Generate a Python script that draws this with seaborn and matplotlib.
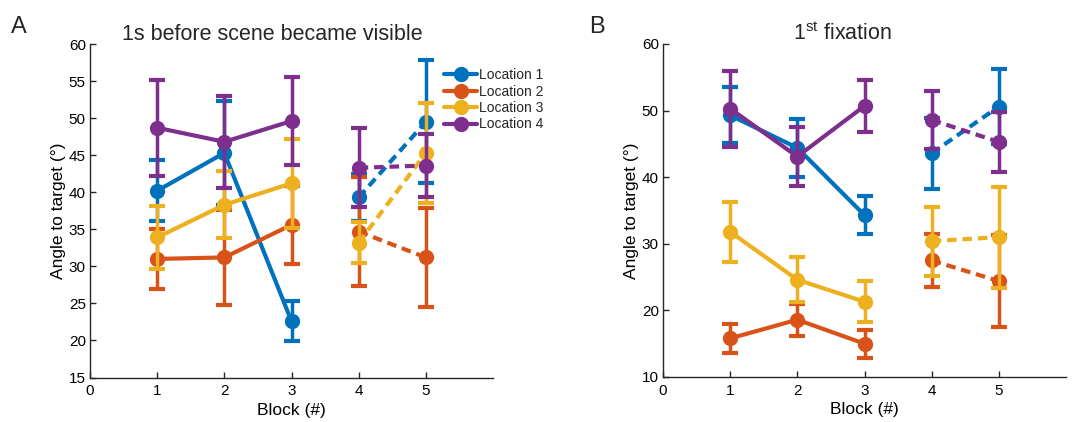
import numpy as np
import pandas as pd
import matplotlib
matplotlib.use("Agg")
import matplotlib.pyplot as plt
from matplotlib.lines import Line2D
import seaborn as sns

# ---- data -------------------------------------------------------------
blocks = [1, 2, 3, 4, 5]
locations = ["Location 1", "Location 2", "Location 3", "Location 4"]
colors = ["#0072BD", "#D95319", "#EDB120", "#7E2F8E"]

# Panel A: 1 s before scene became visible (mean, s.e.m.)
a_loc1 = [40.2, 45.3, 22.6, 39.3, 49.5]
a_loc1_err = [4.1, 7.0, 2.7, 3.2, 8.3]
a_loc2 = [31.0, 31.2, 35.6, 34.7, 31.2]
a_loc2_err = [4.0, 6.4, 5.3, 7.4, 6.7]
a_loc3 = [33.9, 38.3, 41.2, 33.2, 45.3]
a_loc3_err = [4.2, 4.5, 6.0, 2.8, 6.7]
a_loc4 = [48.7, 46.8, 49.6, 43.3, 43.6]
a_loc4_err = [6.5, 6.2, 5.9, 5.3, 4.3]

# Panel B: first fixation
b_loc1 = [49.3, 44.4, 34.3, 43.6, 50.6]
b_loc1_err = [4.2, 4.4, 2.9, 5.3, 5.6]
b_loc2 = [15.8, 18.6, 15.0, 27.5, 24.4]
b_loc2_err = [2.2, 2.4, 2.1, 4.0, 6.9]
b_loc3 = [31.8, 24.6, 21.3, 30.4, 31.0]
b_loc3_err = [4.5, 3.4, 3.1, 5.2, 7.6]
b_loc4 = [50.3, 43.1, 50.7, 48.6, 45.3]
b_loc4_err = [5.7, 4.4, 3.9, 4.4, 4.5]

panel_a = [(a_loc1, a_loc1_err), (a_loc2, a_loc2_err),
           (a_loc3, a_loc3_err), (a_loc4, a_loc4_err)]
panel_b = [(b_loc1, b_loc1_err), (b_loc2, b_loc2_err),
           (b_loc3, b_loc3_err), (b_loc4, b_loc4_err)]

# ---- style ------------------------------------------------------------
sns.set_theme(style="ticks")
plt.rcParams["font.family"] = ["Liberation Sans", "DejaVu Sans"]
plt.rcParams["mathtext.fontset"] = "custom"
plt.rcParams["mathtext.rm"] = "Liberation Sans"
plt.rcParams["mathtext.it"] = "Liberation Sans:italic"
axis_col = "#262626"

LW = 3.0      # connecting lines
ELW = 2.5     # error bar stems
MS = 11       # marker diameter

W, H = 1075, 422
fig = plt.figure(figsize=(W / 100, H / 100), dpi=100)


def px_axes(x0, y0, x1, y1):
    return fig.add_axes([x0 / W, 1 - y1 / H, (x1 - x0) / W, (y1 - y0) / H])


def draw_panel(ax, series, ylim, yticks):
    for i, ((mean, err), name, col) in enumerate(zip(series, locations, colors)):
        z = 3 + 3 * i
        ax.errorbar(blocks, mean, yerr=err, fmt="none", ecolor=col,
                    elinewidth=ELW, capsize=5.5, capthick=3.0, zorder=z)
        df = pd.DataFrame({"Block": blocks, "Angle": mean})
        # blocks 1-3: solid; blocks 4-5: dashed
        for seg, dashed in ((df.iloc[:3], False), (df.iloc[3:], True)):
            sns.lineplot(data=seg, x="Block", y="Angle", ax=ax, color=col,
                         marker="o", markersize=MS, markeredgewidth=0,
                         linewidth=LW, errorbar=None, zorder=z + 1,
                         legend=False)
            if dashed:
                ax.lines[-1].set_dashes((2.3, 1.4))
    ax.set_xlim(0, 6)
    ax.set_ylim(*ylim)
    ax.set_xticks([0, 1, 2, 3, 4, 5])
    ax.set_yticks(yticks)
    ax.set_xlabel("Block (#)", fontsize=12.5, color="black", labelpad=3)
    ax.set_ylabel("Angle to target (°)", fontsize=12.5, color="black", labelpad=2)
    ax.tick_params(direction="in", length=4, width=1, colors=axis_col,
                   labelsize=11, labelcolor="black")
    ax.tick_params(axis="x", pad=5)
    ax.tick_params(axis="y", pad=3)
    for s in ("top", "right"):
        ax.spines[s].set_visible(False)
    for s in ("left", "bottom"):
        ax.spines[s].set_color(axis_col)
        ax.spines[s].set_linewidth(1.0)


ax_a = px_axes(90, 44, 493, 377.5)
draw_panel(ax_a, panel_a, (15, 60), np.arange(15, 61, 5))

ax_b = px_axes(663, 44, 1066, 377)
draw_panel(ax_b, panel_b, (10, 60), np.arange(10, 61, 10))

# legend
handles = [Line2D([], [], color=c, lw=LW, marker="o", markersize=MS,
                  markeredgewidth=0) for c in colors]
fig.legend(handles, locations, loc="upper left",
           bbox_to_anchor=(444 / W, 1 - 68 / H), frameon=False,
           fontsize=10, handlelength=2.4, handletextpad=0.15,
           labelspacing=0.18, borderpad=0, borderaxespad=0)

# titles and panel letters
fig.text(272 / W, 1 - 40 / H, "1s before scene became visible",
         ha="center", va="baseline", fontsize=15.5)
fig.text(843 / W, 1 - 40 / H, r"1$^{\mathrm{st}}$ fixation",
         ha="center", va="baseline", fontsize=15.5)
fig.text(11 / W, 1 - 33 / H, "A", ha="left", va="baseline", fontsize=17)
fig.text(589 / W, 1 - 33 / H, "B", ha="left", va="baseline", fontsize=17)

fig.savefig("out.png", dpi=100)
